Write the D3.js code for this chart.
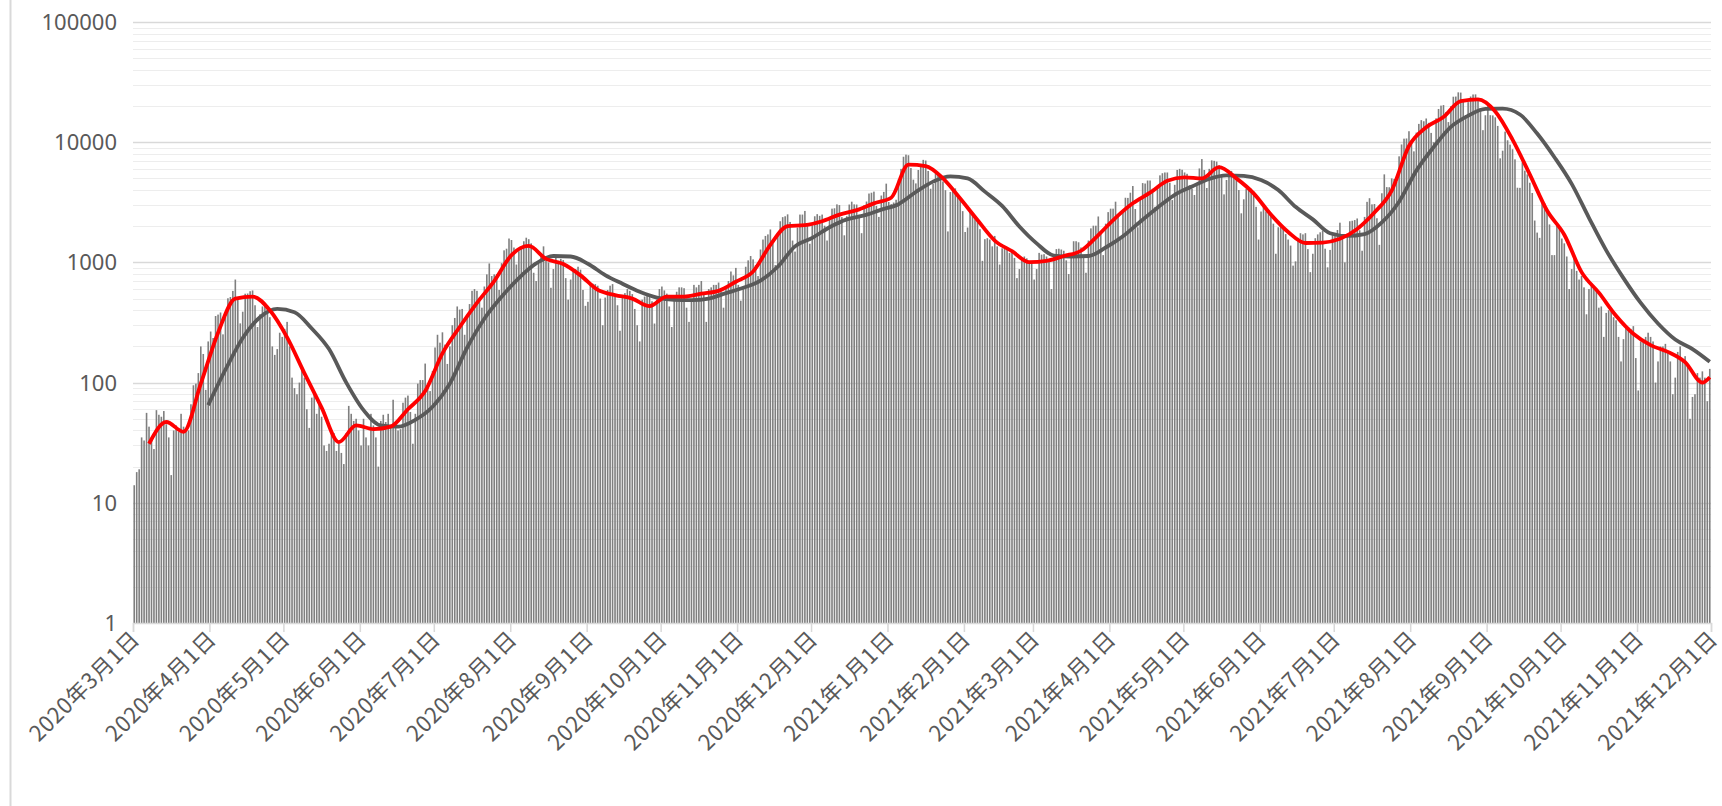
<!DOCTYPE html>
<html>
<head>
<meta charset="utf-8">
<script src="https://cdn.jsdelivr.net/npm/d3@7"></script>
<style>
  body { margin: 0; background: #fff; }
  svg { display: block; }
</style>
</head>
<body>
<svg id="chart" width="1722" height="806"></svg>
<script>
// daily new cases, one value per day from 2020-03-01 (rows = weeks, Sun..Sat)
var startDate = "2020-03-01";
var endDate = "2021-12-01";
var dailyCases = [
  14, 18, 19, 35, 33, 56, 43,
  33, 28, 59, 54, 52, 58, 45,
  35, 17, 40, 44, 39, 55, 43,
  41, 40, 66, 95, 98, 120, 200,
  173, 87, 220, 266, 235, 358, 368,
  383, 252, 351, 503, 515, 579, 720,
  507, 311, 389, 549, 551, 576, 584,
  440, 290, 370, 430, 440, 430, 350,
  200, 170, 190, 260, 240, 280, 320,
  200, 110, 90, 80, 100, 130, 110,
  60, 42, 75, 80, 55, 70, 52,
  30, 27, 31, 40, 38, 27, 31,
  26, 21, 38, 64, 55, 48, 50,
  40, 30, 50, 35, 30, 55, 44,
  35, 20, 48, 54, 47, 55, 42,
  72, 46, 40, 41, 68, 75, 78,
  57, 31, 55, 98, 105, 105, 144,
  92, 85, 125, 196, 250, 215, 262,
  207, 143, 200, 300, 345, 430, 405,
  410, 250, 350, 450, 580, 600, 580,
  510, 420, 630, 795, 980, 770, 795,
  800, 590, 985, 1260, 1300, 1580, 1535,
  1330, 960, 1240, 1350, 1500, 1605, 1560,
  1440, 820, 700, 970, 1170, 1360, 1030,
  1000, 615, 880, 1150, 1030, 1070, 1045,
  740, 490, 720, 840, 880, 920, 870,
  590, 435, 470, 670, 665, 660, 640,
  500, 300, 510, 590, 640, 660, 545,
  440, 270, 510, 555, 600, 580, 545,
  410, 300, 220, 490, 520, 555, 536,
  475, 310, 490, 600, 630, 585, 550,
  430, 290, 500, 570, 620, 620, 610,
  420, 320, 490, 650, 620, 650, 700,
  540, 320, 600, 620, 650, 650, 680,
  570, 420, 620, 700, 840, 780, 900,
  650, 480, 600, 920, 1040, 1130, 1060,
  950, 770, 1280, 1550, 1660, 1710, 1880,
  1440, 950, 1700, 2200, 2380, 2420, 2510,
  2170, 1520, 1230, 1950, 2500, 2500, 2680,
  2070, 1430, 2040, 2420, 2520, 2440, 2500,
  2020, 1520, 2300, 2800, 2820, 3040, 3000,
  2380, 1680, 2420, 3030, 3200, 3040, 3030,
  2490, 1750, 2990, 3210, 3740, 3800, 3880,
  2950, 2390, 3600, 3860, 4520, 3180, 3050,
  3150, 3320, 4900, 6000, 7570, 7880, 7790,
  6090, 4880, 4540, 5870, 6600, 7130, 7040,
  5760, 4100, 4500, 5530, 5650, 4920, 4710,
  3990, 1810, 3850, 3960, 4130, 3540, 3340,
  2670, 1790, 1950, 2630, 2580, 2290, 2290,
  1890, 1030, 1560, 1590, 1550, 1360, 1660,
  1360, 960, 1310, 1330, 1290, 1200, 1230,
  1090, 740, 880, 1060, 1120, 1080, 990,
  990, 720, 880, 1200, 1160, 1170, 1120,
  1060, 600, 1130, 1290, 1300, 1280, 1250,
  1040, 800, 1110, 1500, 1500, 1470, 1330,
  1120, 820, 1520, 1920, 2020, 2020, 2410,
  1780, 1150, 2100, 2620, 2800, 2800, 3200,
  2470, 1570, 2650, 3450, 3440, 3800, 4320,
  2780, 1960, 3450, 4570, 4530, 4800, 4800,
  4100, 2900, 4330, 5300, 5520, 5600, 5600,
  4600, 3300, 4420, 5880, 6000, 5900, 5600,
  5460, 4380, 4100, 3640, 4350, 6050, 7240,
  5870, 4160, 6000, 7060, 7000, 6900, 6410,
  5260, 3680, 4850, 5700, 5770, 5220, 4840,
  4000, 2560, 3350, 4100, 4100, 4100, 3900,
  2900, 1550, 2650, 2970, 2660, 2520, 2450,
  2100, 1180, 1960, 2040, 1980, 1720, 1550,
  1380, 940, 1020, 1600, 1750, 1710, 1750,
  1290, 830, 1180, 1590, 1710, 1780, 1840,
  1300, 910, 1270, 1750, 1760, 1860, 2140,
  1580, 1000, 1730, 2200, 2220, 2250, 2320,
  1850, 1250, 2390, 3190, 3420, 3040, 3060,
  2330, 1400, 3760, 5400, 4230, 4220, 5000,
  4940, 4690, 7630, 9580, 10700, 10740, 12340,
  10160, 8390, 12020, 14200, 15260, 14940, 15750,
  14500, 11950, 10000, 15800, 18890, 20150, 20360,
  17790, 14700, 19950, 23900, 23980, 25990, 25870,
  22250, 16830, 21550, 24000, 24950, 25000, 22750,
  19260, 12590, 16750, 20030, 16780, 16700, 16100,
  13660, 7340, 8500, 12250, 10380, 9550, 8740,
  7200, 4180, 4170, 6800, 5800, 5400, 4600,
  3780, 2230, 1770, 1600, 3210, 3100, 2830,
  2070, 1150, 1150, 2120, 1990, 1580, 1440,
  1120, 600, 880, 1140, 850, 720, 770,
  620, 370, 600, 650, 610, 610, 420,
  430, 240, 380, 400, 390, 350, 330,
  240, 150, 230, 300, 290, 280, 295,
  160, 86, 220, 230, 240, 260, 240,
  220, 100, 150, 200, 200, 210, 180,
  150, 80, 110, 180, 200, 150, 166,
  140, 50, 76, 80, 120, 110, 124,
  110, 70, 130
];

// red line: short moving average, read every 7 days from 2020-03-07
var avg7Start = "2020-03-07";
var avg7 = [
  31, 47, 39, 98, 260, 500, 520, 400, 238, 120,
  62, 32, 44, 41, 43, 60, 85, 175, 290, 460,
  700, 1150, 1370, 1070, 970, 780, 590, 535, 500, 433,
  520, 520, 550, 580, 690, 840, 1400, 2000, 2040, 2200,
  2500, 2720, 3100, 3450, 6500, 6320, 5000, 3400, 2250, 1520,
  1240, 1005, 1030, 1130, 1250, 1690, 2350, 3100, 3800, 4780,
  5100, 5000, 6200, 5000, 3750, 2500, 1790, 1450, 1460, 1570,
  1900, 2600, 3960, 9300, 13300, 16200, 22000, 22700, 18000, 10500,
  5400, 2700, 1700, 830, 560, 360, 255, 205, 180, 148,
  100
];
var avg7Tail = [["2021-11-30", 111]];

// dark grey line: long moving average, read every 7 days from 2020-03-31
var avgLongStart = "2020-03-31";
var avgLong = [
  65, 128, 235, 350, 410, 385, 282, 190, 100, 59,
  44, 43, 49, 63, 98, 195, 340, 518, 740, 980,
  1130, 1120, 975, 785, 665, 570, 510, 488, 485, 500,
  555, 615, 705, 920, 1360, 1600, 1960, 2280, 2460, 2750,
  3050, 3850, 4700, 5200, 5000, 3880, 2950, 1990, 1440, 1140,
  1120, 1130, 1330, 1650, 2180, 2850, 3650, 4280, 4950, 5300,
  5250, 4850, 4000, 2900, 2280, 1750, 1660, 1720, 2150, 3200,
  5800, 9100, 13400, 16600, 18900, 19000, 17000, 11800, 7500, 4500,
  2350, 1260, 740, 460, 310, 228, 190, 149
];

var yTicks = [1, 10, 100, 1000, 10000, 100000];

var svg = d3.select('#chart');
var parse = d3.timeParse('%Y-%m-%d');
var t0 = parse(startDate);

var x = d3.scaleTime().domain([t0, parse(endDate)]).range([133, 1711]);
var y = d3.scaleLog().domain([1, 100000]).range([623, 22]);
var dayW = x(d3.timeDay.offset(t0, 1)) - x(t0);

// frame line on the left
svg.append('line')
  .attr('x1', 10.5).attr('x2', 10.5).attr('y1', 0).attr('y2', 806)
  .attr('stroke', '#d9d9d9').attr('stroke-width', 2);

// minor + major gridlines
var minor = [];
yTicks.slice(0, -1).forEach(function(t) {
  for (var k = 2; k <= 9; k++) minor.push(t * k);
});
svg.append('g').selectAll('line').data(minor).join('line')
  .attr('x1', 133).attr('x2', 1711)
  .attr('y1', function(d) { return Math.round(y(d)) + 0.5; })
  .attr('y2', function(d) { return Math.round(y(d)) + 0.5; })
  .attr('stroke', '#ededed').attr('stroke-width', 1.2);
svg.append('g').selectAll('line').data(yTicks.slice(1)).join('line')
  .attr('x1', 133).attr('x2', 1711)
  .attr('y1', function(d) { return Math.round(y(d)) + 0.5; })
  .attr('y2', function(d) { return Math.round(y(d)) + 0.5; })
  .attr('stroke', '#d9d9d9').attr('stroke-width', 1.3);

// y labels
svg.append('g').selectAll('text').data(yTicks).join('text')
  .attr('x', 117).attr('y', function(d) { return y(d); })
  .attr('dy', '0.36em')
  .attr('text-anchor', 'end')
  .attr('font-family', '"Noto Sans", sans-serif')
  .attr('font-size', 22)
  .attr('fill', '#595959')
  .text(function(d) { return d; });

// daily bars
svg.append('g').selectAll('rect').data(dailyCases).join('rect')
  .attr('x', function(d, i) { return x(d3.timeDay.offset(t0, i)) + dayW / 2 - 0.8; })
  .attr('width', 1.6)
  .attr('y', function(d) { return y(d); })
  .attr('height', function(d) { return y(1) - y(d); })
  .attr('fill', '#7f7f7f');

// x axis
var xAxis = d3.axisBottom(x)
  .ticks(d3.timeMonth.every(1))
  .tickSize(9)
  .tickFormat(function(d) {
    return d.getFullYear() + '年' + (d.getMonth() + 1) + '月' + d.getDate() + '日';
  });
var gx = svg.append('g').attr('transform', 'translate(0,623)').call(xAxis);
gx.select('.domain').attr('stroke', '#d9d9d9').attr('stroke-width', 1.5);
gx.selectAll('.tick line').attr('stroke', '#d9d9d9').attr('stroke-width', 1.5);
gx.selectAll('.tick text')
  .attr('x', 0).attr('y', 0).attr('dy', '0.35em')
  .attr('transform', 'translate(2,12) rotate(-45)')
  .attr('text-anchor', 'end')
  .attr('font-family', '"Noto Sans CJK JP", sans-serif')
  .attr('font-size', 22)
  .attr('letter-spacing', '0.6px')
  .attr('fill', '#595959');

// moving average lines
function linePoints(start, values, step) {
  var s = parse(start);
  return values.map(function(v, i) {
    return [d3.timeDay.offset(s, i * step), v];
  });
}
var line = d3.line()
  .curve(d3.curveMonotoneX)
  .x(function(d) { return x(d[0]) + dayW / 2; })
  .y(function(d) { return y(d[1]); });

var longPts = linePoints(avgLongStart, avgLong, 7);
var redPts = linePoints(avg7Start, avg7, 7).concat(avg7Tail.map(function(d) {
  return [parse(d[0]), d[1]];
}));

svg.append('path').datum(longPts)
  .attr('d', line).attr('fill', 'none')
  .attr('stroke', '#595959').attr('stroke-width', 3.8)
  .attr('stroke-linejoin', 'round');
svg.append('path').datum(redPts)
  .attr('d', line).attr('fill', 'none')
  .attr('stroke', '#ff0000').attr('stroke-width', 3.8)
  .attr('stroke-linejoin', 'round');
</script>
</body>
</html>
